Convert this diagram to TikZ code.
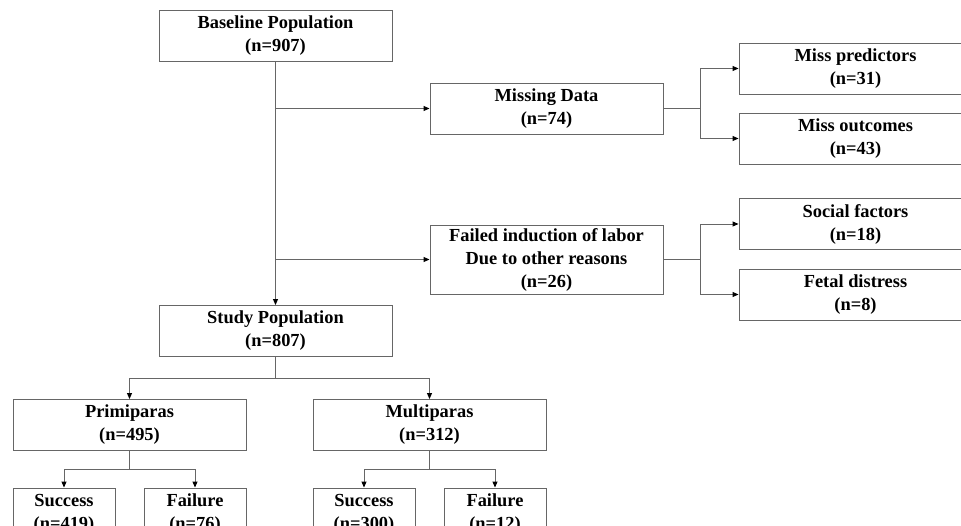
\documentclass[tikz,border=0pt]{standalone}
\usepackage{fontspec}
\setmainfont{Liberation Serif}
\usetikzlibrary{arrows.meta}
\usetikzlibrary{positioning}

\begin{document}
\begin{tikzpicture}[x=1pt,y=-1pt,
  box/.style={draw=black!60,line width=0.9pt,minimum width=233pt,minimum height=51pt,
    align=center,inner sep=2pt,font=\fontsize{18.4}{23}\selectfont\bfseries},
  smallbox/.style={box,minimum width=102pt},
  line/.style={draw=black!60,line width=0.9pt},
  arr/.style={line,-{Triangle[length=6pt,width=5pt,color=black]}}]
\useasboundingbox (0,0) rectangle (961,526);
\clip (0,0) rectangle (961,526);

% main column
\node[box] (base) at (275.5,36) {Baseline Population\\(n=907)};
\node[box] (study) at (275.5,331) {Study Population\\(n=807)};
\node[box] (missing) at (546.5,108.5) {Missing Data\\(n=74)};
\node[box,minimum height=69pt] (failed) at (546.5,259.5) {Failed induction of labor\\Due to other reasons\\(n=26)};

% right column
\node[box] (pred) at (855.5,68.5) {Miss predictors\\(n=31)};
\node[box] (outc) at (855.5,138.5) {Miss outcomes\\(n=43)};
\node[box] (social) at (855.5,224) {Social factors\\(n=18)};
\node[box] (fetal) at (855.5,294.5) {Fetal distress\\(n=8)};

% parity
\node[box] (prim) at (129.5,425) {Primiparas\\(n=495)};
\node[box] (multi) at (429.5,425) {Multiparas\\(n=312)};
\node[smallbox] (succA) at (64,513.5) {Success\\(n=419)};
\node[smallbox] (failA) at (195,513.5) {Failure\\(n=76)};
\node[smallbox] (succB) at (364,513.5) {Success\\(n=300)};
\node[smallbox] (failB) at (495,513.5) {Failure\\(n=12)};

% connectors
\draw[arr] (base.south) -- (study.north);
\draw[arr] (base.south |- missing.west) -- (missing.west);
\draw[arr] (base.south |- failed.west) -- (failed.west);

\draw[line] (missing.east) -- ++(37,0) coordinate (mj);
\draw[arr] (mj) |- (pred.west);
\draw[arr] (mj) |- (outc.west);
\draw[line] (failed.east) -- ++(37,0) coordinate (fj);
\draw[arr] (fj) |- (social.west);
\draw[arr] (fj) |- (fetal.west);

\draw[line] (study.south) -- ++(0,22) coordinate (sj);
\draw[arr] (sj) -| (prim.north);
\draw[arr] (sj) -| (multi.north);
\draw[line] (prim.south) -- ++(0,18) coordinate (pj);
\draw[arr] (pj) -| (succA.north);
\draw[arr] (pj) -| (failA.north);
\draw[line] (multi.south) -- ++(0,18) coordinate (qj);
\draw[arr] (qj) -| (succB.north);
\draw[arr] (qj) -| (failB.north);

\end{tikzpicture}
\end{document}
